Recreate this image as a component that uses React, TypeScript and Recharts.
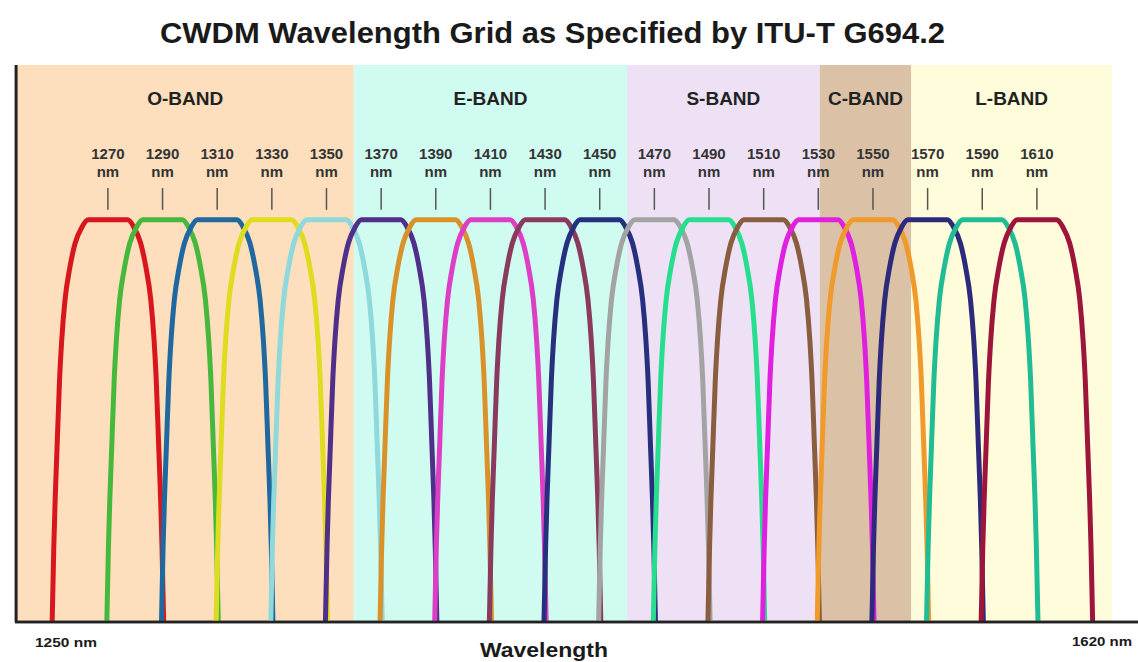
import { ComposedChart, Line, XAxis, YAxis, ReferenceArea, ReferenceLine, ReferenceDot } from "recharts";

const FONT = '"Liberation Sans", Arial, sans-serif';

// CWDM channel centres (nm) and the colour of each filter curve
const channels = [1270, 1290, 1310, 1330, 1350, 1370, 1390, 1410, 1430, 1450, 1470, 1490, 1510, 1530, 1550, 1570, 1590, 1610];
const channelColors = [
  "#d8161d", "#46b83b", "#1f68a0", "#dedc1f", "#8fd8dc", "#4f2f8a",
  "#d9922a", "#dc3ec6", "#8a3a5d", "#27307f", "#a3a3a3", "#27dd8e",
  "#8a5d3e", "#e020df", "#f09a2b", "#2d2a7b", "#20bd95", "#9e153b",
];

// spectral bands behind the curves
const bandNames = ["O-BAND", "E-BAND", "S-BAND", "C-BAND", "L-BAND"];
const bandStarts = [1236.6, 1360, 1460, 1530.5, 1564];
const bandEnds = [1360, 1460, 1530.5, 1564, 1637.5];
const bandColors = ["#fddfbe", "#d0fbf0", "#eee1f6", "#dbc2a7", "#fffcdb"];

// passband shape: offset from centre (nm) and level
const shapeOffsets = [-20.4, -19.8, -19.3, -18.6, -17.7, -16.9, -15.7, -13.9, -12.0, -9.5, -7.2, 7.2, 9.5, 12.0, 13.9, 15.7, 16.9, 17.7, 18.6, 19.3, 19.8, 20.4];
const shapeLevels = [0, 13.5, 22.0, 31.4, 43.4, 50.6, 57.8, 63.7, 68.0, 70.9, 72.2, 72.2, 70.9, 68.0, 63.7, 57.8, 50.6, 43.4, 31.4, 22.0, 13.5, 0];

const channelSeries = channels.map((c) =>
  shapeOffsets.map((o, i) => ({ x: c + o, v: shapeLevels[i] }))
);

const ChannelLabel = ({ viewBox, value }: any) => {
  const cx = viewBox.x + viewBox.width / 2;
  const cy = viewBox.y + viewBox.height / 2;
  return (
    <g fontFamily={FONT} fontWeight="bold" fontSize={15} fill="#333" textAnchor="middle">
      <text x={cx} y={cy - 29}>{value}</text>
      <text x={cx} y={cy - 11}>nm</text>
    </g>
  );
};

const BandLabel = ({ viewBox, value }: any) => (
  <text
    x={viewBox.x + viewBox.width / 2}
    y={viewBox.y + 40}
    textAnchor="middle"
    fontFamily={FONT}
    fontWeight="bold"
    fontSize={19}
    fill="#222"
  >
    {value}
  </text>
);

export default function App() {
  return (
    <div style={{ position: "absolute", left: 0, top: 0, width: 1138, height: 662, background: "#fff" }}>
      <ComposedChart width={1138} height={662} margin={{ top: 65, right: 0, left: 15, bottom: 0 }}>
        <XAxis
          dataKey="x"
          type="number"
          domain={[1236, 1647]}
          allowDataOverflow
          height={40}
          tick={false}
          tickLine={false}
          axisLine={{ stroke: "#222", strokeWidth: 2.5 }}
        />
        <YAxis
          type="number"
          domain={[0, 100]}
          allowDataOverflow
          width={0}
          tick={false}
          tickLine={false}
          axisLine={false}
        />
        {bandNames.map((b, i) => (
          <ReferenceArea
            key={b}
            x1={bandStarts[i]}
            x2={bandEnds[i]}
            y1={0}
            y2={100}
            fill={bandColors[i]}
            fillOpacity={1}
            stroke="none"
            label={{ value: b, content: BandLabel }}
          />
        ))}
        <ReferenceLine x={1236.4} stroke="#222" strokeWidth={3} />
        <ReferenceLine y={0} stroke="#222" strokeWidth={2.5} />
        {channels.map((c) => (
          <ReferenceLine
            key={"t" + c}
            segment={[{ x: c, y: 74 }, { x: c, y: 77.9 }]}
            stroke="#555"
            strokeWidth={1.5}
          />
        ))}
        {channels.map((c) => (
          <ReferenceDot
            key={"d" + c}
            x={c}
            y={77.9}
            r={1}
            fill="none"
            stroke="none"
            label={{ value: String(c), content: ChannelLabel }}
          />
        ))}
        {channels.map((c, i) => (
          <Line
            key={c}
            data={channelSeries[i]}
            dataKey="v"
            type="monotone"
            stroke={channelColors[i]}
            strokeWidth={5}
            dot={false}
            activeDot={false}
            isAnimationActive={false}
          />
        ))}
      </ComposedChart>
      <svg width={1138} height={662} style={{ position: "absolute", left: 0, top: 0, pointerEvents: "none" }}>
        <g fontFamily={FONT} fontWeight="bold" fill="#1a1a1a">
          <text x={160} y={43} fontSize={29} textLength={785} lengthAdjust="spacingAndGlyphs">
            CWDM Wavelength Grid as Specified by ITU-T G694.2
          </text>
          <text x={480} y={657} fontSize={21} textLength={128} lengthAdjust="spacingAndGlyphs">
            Wavelength
          </text>
          <text x={35} y={647} fontSize={13.5} textLength={62} lengthAdjust="spacingAndGlyphs">
            1250 nm
          </text>
          <text x={1072} y={646} fontSize={13.5} textLength={60} lengthAdjust="spacingAndGlyphs">
            1620 nm
          </text>
        </g>
      </svg>
    </div>
  );
}
